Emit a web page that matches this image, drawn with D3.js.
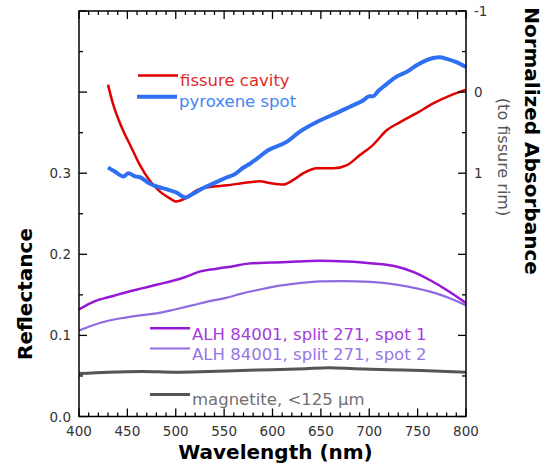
<!DOCTYPE html>
<html>
<head>
<meta charset="utf-8">
<script src="https://cdn.jsdelivr.net/npm/d3@7"></script>
<style>
  body { margin: 0; background: #fff; }
  text { font-family: "DejaVu Sans", Verdana, sans-serif; }
</style>
</head>
<body>
<svg width="547" height="472"></svg>
<script>
// wavelength (nm) / reflectance
var fissureWl = [430, 435, 444, 454, 463, 473, 484, 494, 500, 510, 522, 535, 553, 570, 587, 597, 611, 622, 632, 646, 663, 677, 690, 704, 718, 732, 749, 766, 784, 800];
var fissureR = [0.409, 0.386, 0.357, 0.332, 0.310, 0.291, 0.277, 0.269, 0.265, 0.269, 0.279, 0.283, 0.285, 0.288, 0.290, 0.288, 0.286, 0.292, 0.300, 0.306, 0.306, 0.310, 0.322, 0.335, 0.353, 0.363, 0.374, 0.386, 0.396, 0.403];

var pyroxWl = [430, 437, 446, 451, 458, 463, 472, 482, 491, 501, 510, 517, 529, 542, 553, 560, 570, 577, 584, 595, 615, 628, 649, 666, 680, 694, 700, 704, 709, 716, 728, 739, 749, 766, 773, 780, 790, 800];
var pyroxR = [0.307, 0.302, 0.296, 0.300, 0.296, 0.295, 0.288, 0.283, 0.280, 0.276, 0.270, 0.274, 0.282, 0.289, 0.295, 0.298, 0.307, 0.312, 0.318, 0.328, 0.339, 0.351, 0.365, 0.374, 0.382, 0.390, 0.395, 0.395, 0.401, 0.408, 0.419, 0.425, 0.433, 0.442, 0.443, 0.441, 0.437, 0.431];

var spot1Wl = [400, 416, 430, 448, 465, 482, 496, 510, 523, 541, 558, 575, 599, 625, 649, 677, 701, 728, 746, 763, 780, 800];
var spot1R = [0.132, 0.142, 0.147, 0.153, 0.158, 0.163, 0.167, 0.172, 0.178, 0.182, 0.185, 0.1885, 0.190, 0.191, 0.192, 0.191, 0.189, 0.185, 0.178, 0.168, 0.156, 0.140];

var spot2Wl = [400, 413, 430, 448, 465, 482, 499, 517, 534, 551, 568, 585, 603, 625, 649, 673, 701, 728, 749, 770, 787, 800];
var spot2R = [0.106, 0.112, 0.118, 0.122, 0.125, 0.1275, 0.132, 0.137, 0.142, 0.146, 0.1515, 0.156, 0.1605, 0.164, 0.1667, 0.167, 0.166, 0.1626, 0.158, 0.1515, 0.144, 0.137];

var magnWl = [400, 430, 465, 499, 534, 568, 599, 634, 658, 685, 720, 754, 800];
var magnR = [0.053, 0.0547, 0.0556, 0.0547, 0.0556, 0.0568, 0.0577, 0.0589, 0.0601, 0.0589, 0.0577, 0.0568, 0.0547];

var xTickLabels = [400, 450, 500, 550, 600, 650, 700, 750, 800];
var yTickLabels = [0.0, 0.1, 0.2, 0.3];
var absTickLabels = [-1, 0, 1];

var svg = d3.select("svg");
var pL = 79, pR = 466, pT = 11, pB = 416.5;

var x = d3.scaleLinear().domain([400, 800]).range([pL, pR]);
var y = d3.scaleLinear().domain([0, 0.5]).range([pB, pT]);
// absorbance axis: 0 sits at R=0.4, one unit per 0.1 reflectance
var yAbs = d3.scaleLinear().domain([4, -1]).range([pB, pT]);

var line = d3.line()
  .x(d => x(d[0]))
  .y(d => y(d[1]))
  .curve(d3.curveMonotoneX);

var series = [
  { wl: magnWl, r: magnR, color: "#555555", w: 3, label: "magnetite, <125 \u00b5m", text: "#707070", lx: 150, ly: 394.5, dy: 10 },
  { wl: spot2Wl, r: spot2R, color: "#8f6ae0", w: 2.2, label: "ALH 84001, split 271, spot 2", text: "#9675e4", lx: 150, ly: 348.5, dy: 11.5 },
  { wl: spot1Wl, r: spot1R, color: "#9418d6", w: 2.5, label: "ALH 84001, split 271, spot 1", text: "#a23ddb", lx: 150, ly: 328.3, dy: 11.5 },
  { wl: fissureWl, r: fissureR, color: "#e00000", w: 2.5, label: "fissure cavity", text: "#e22a2a", lx: 138, ly: 75.5, dy: 10.2 },
  { wl: pyroxWl, r: pyroxR, color: "#2f6ff2", w: 4, label: "pyroxene spot", text: "#4485f5", lx: 137, ly: 96.7, dy: 9.8 }
];

series.forEach(function (s) {
  svg.append("path")
    .datum(d3.zip(s.wl, s.r))
    .attr("d", line)
    .attr("fill", "none")
    .attr("stroke", s.color)
    .attr("stroke-width", s.w)
    .attr("stroke-linejoin", "round");

  svg.append("line")
    .attr("x1", s.lx).attr("x2", s.lx + 40)
    .attr("y1", s.ly).attr("y2", s.ly)
    .attr("stroke", s.color)
    .attr("stroke-width", s.w);
  svg.append("text")
    .attr("x", s.lx + 42)
    .attr("y", s.ly + s.dy)
    .attr("font-size", 16.5)
    .attr("fill", s.text)
    .text(s.label);
});

// frame
svg.append("rect")
  .attr("x", pL).attr("y", pT)
  .attr("width", pR - pL).attr("height", pB - pT)
  .attr("fill", "none").attr("stroke", "#000").attr("stroke-width", 1.5);

function tick(x1, y1, x2, y2) {
  svg.append("line")
    .attr("x1", x1).attr("y1", y1).attr("x2", x2).attr("y2", y2)
    .attr("stroke", "#000").attr("stroke-width", 1.3);
}

// wavelength ticks, bottom and top, pointing inward
d3.range(400, 801, 10).forEach(function (v) {
  var len = v % 50 === 0 ? 8 : 4;
  tick(x(v), pB, x(v), pB - len);
  tick(x(v), pT, x(v), pT + len);
});
// reflectance ticks
d3.range(0, 0.51, 0.05).forEach(function (v, i) {
  var len = i % 2 === 0 ? 8 : 4;
  tick(pL, y(v), pL + len, y(v));
});
// absorbance ticks
d3.range(-1, 4.01, 0.5).forEach(function (v) {
  var len = Number.isInteger(v) ? 8 : 4;
  tick(pR, yAbs(v), pR - len, yAbs(v));
});

var fmt = d3.format(".1f");
svg.selectAll(".xl").data(xTickLabels).enter().append("text")
  .attr("x", d => x(d)).attr("y", 435.5)
  .attr("text-anchor", "middle").attr("font-size", 13.5).attr("fill", "#333")
  .text(d => d);
svg.selectAll(".yl").data(yTickLabels).enter().append("text")
  .attr("x", 71).attr("y", d => y(d) + 5)
  .attr("text-anchor", "end").attr("font-size", 13.5).attr("fill", "#333")
  .text(d => fmt(d));
svg.selectAll(".al").data(absTickLabels).enter().append("text")
  .attr("x", 474).attr("y", d => yAbs(d) + 5)
  .attr("font-size", 13.5).attr("fill", "#333")
  .text(d => d);

// titles
svg.append("text")
  .attr("x", x(600) + 3).attr("y", 459)
  .attr("text-anchor", "middle").attr("font-size", 20).attr("font-weight", "bold")
  .text("Wavelength (nm)");
svg.append("text")
  .attr("transform", "translate(32,294) rotate(-90)")
  .attr("text-anchor", "middle").attr("font-size", 20).attr("font-weight", "bold")
  .text("Reflectance");
svg.append("text")
  .attr("transform", "translate(525,141) rotate(90)")
  .attr("text-anchor", "middle").attr("font-size", 20).attr("font-weight", "bold")
  .text("Normalized Absorbance");
svg.append("text")
  .attr("transform", "translate(498,157) rotate(90)")
  .attr("text-anchor", "middle").attr("font-size", 16).attr("fill", "#555")
  .text("(to fissure rim)");
</script>
</body>
</html>
